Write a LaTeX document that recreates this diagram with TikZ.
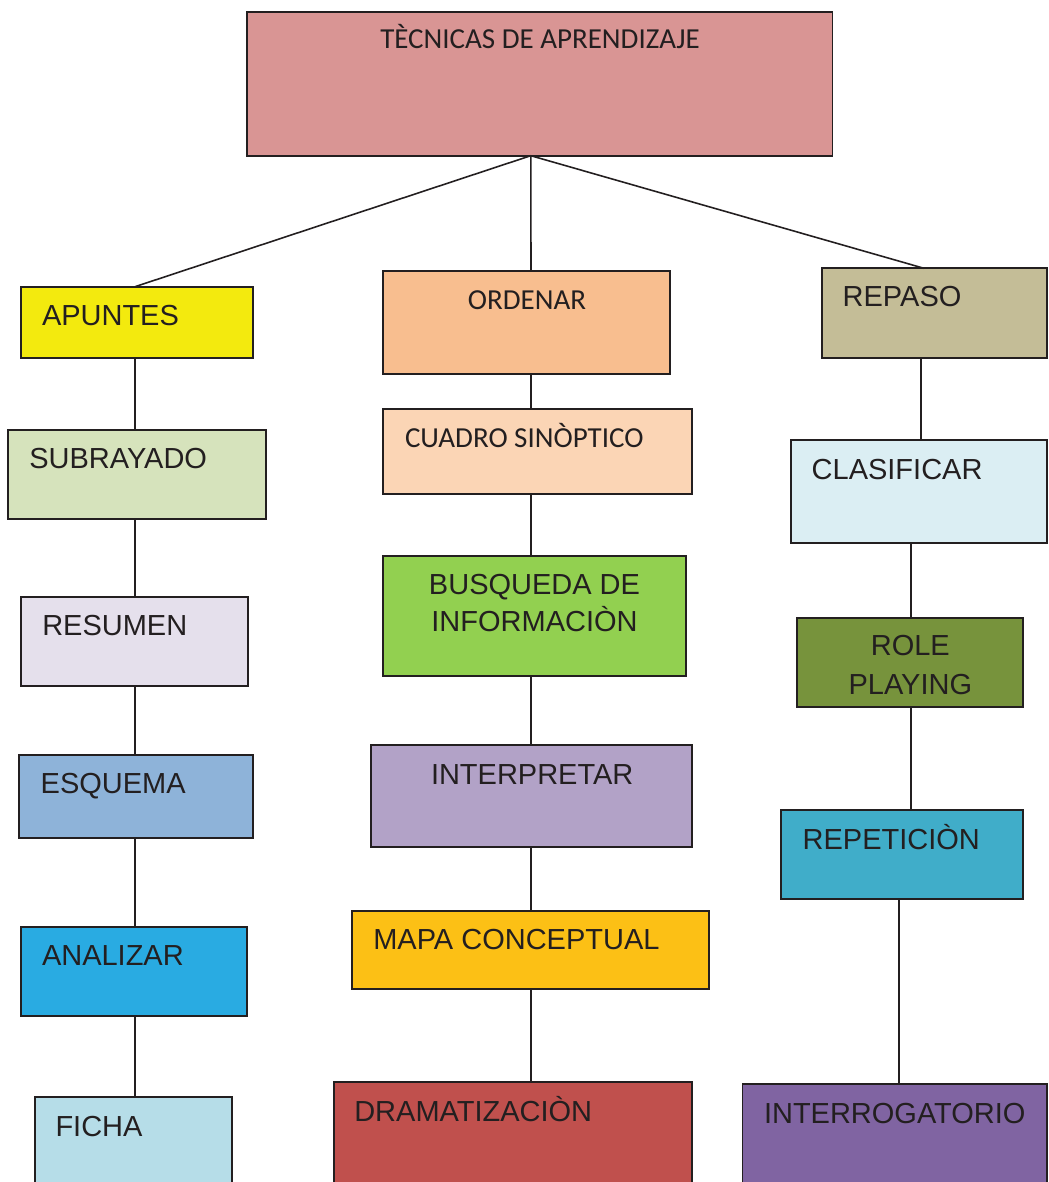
\documentclass[tikz,border=0pt]{standalone}
\usepackage{fontspec}
\setmainfont{Liberation Sans}
\newfontfamily\calib{Carlito}
\definecolor{ink}{HTML}{231F20}
\definecolor{cTop}{HTML}{D99594}
\definecolor{cApu}{HTML}{F3EA0E}
\definecolor{cOrd}{HTML}{F8BE8F}
\definecolor{cCua}{HTML}{FBD5B5}
\definecolor{cRep}{HTML}{C4BD97}
\definecolor{cSub}{HTML}{D6E3BC}
\definecolor{cCla}{HTML}{DBEEF3}
\definecolor{cRes}{HTML}{E5E0EC}
\definecolor{cBus}{HTML}{92D050}
\definecolor{cRol}{HTML}{77933C}
\definecolor{cEsq}{HTML}{8EB3D9}
\definecolor{cInt}{HTML}{B2A2C7}
\definecolor{cRpt}{HTML}{40ADC9}
\definecolor{cAna}{HTML}{29ABE2}
\definecolor{cMap}{HTML}{FCC015}
\definecolor{cFic}{HTML}{B6DDE8}
\definecolor{cDra}{HTML}{C0504D}
\definecolor{cIgt}{HTML}{8064A2}
\tikzset{
  box/.style={draw=ink, line width=0.95pt, inner sep=0pt, outer sep=0pt, rectangle},
  txt/.style={text=ink, inner sep=0pt, outer sep=0pt, font=\fontsize{16.5}{19}\selectfont},
  ctxt/.style={text=ink, inner sep=0pt, outer sep=0pt, font=\calib\fontsize{16.5}{19}\selectfont},
  link/.style={draw=ink, line width=0.9pt},
}
\newcommand\mkbox[6]{%
  \node[box, fill=#6, minimum width={((#4)-(#2))*0.02cm}, minimum height={((#5)-(#3))*0.02cm}]
    (#1) at ({((#2)+(#4))/2},{((#3)+(#5))/2}) {};}
\begin{document}
\begin{tikzpicture}[x=0.02cm, y=-0.02cm]
\useasboundingbox (0,0) rectangle (1048,1182);
\clip (0,0) rectangle (1048,1182);
% boxes
\mkbox{top}{247}{11.7}{832.4}{155.7}{cTop}
\mkbox{apuntes}{21.3}{286.7}{252.7}{358}{cApu}
\mkbox{ordenar}{383.3}{271}{670}{373.7}{cOrd}
\mkbox{repaso}{821.7}{268.3}{1047.2}{358}{cRep}
\mkbox{subrayado}{8.3}{429.7}{266}{518.7}{cSub}
\mkbox{cuadro}{383.3}{408.7}{691.7}{494.3}{cCua}
\mkbox{clasificar}{790.7}{440}{1047.2}{542.7}{cCla}
\mkbox{resumen}{21.3}{596.7}{247.7}{686}{cRes}
\mkbox{busqueda}{383.3}{555.7}{685.7}{676}{cBus}
\mkbox{role}{797}{617.7}{1023.3}{707.3}{cRol}
\mkbox{esquema}{19}{754.7}{252.7}{838.3}{cEsq}
\mkbox{interpretar}{371}{744.7}{691.7}{847}{cInt}
\mkbox{repeticion}{781.3}{810}{1023.3}{899.3}{cRpt}
\mkbox{analizar}{21.3}{927.3}{247.3}{1016.3}{cAna}
\mkbox{mapa}{352}{911}{709}{989.3}{cMap}
\mkbox{ficha}{34.8}{1097.3}{232}{1200}{cFic}
\mkbox{drama}{334.2}{1081.7}{691.8}{1200}{cDra}
\mkbox{interrog}{742.6}{1084.3}{1047.2}{1200}{cIgt}
% texts
\node[ctxt, anchor=base] (top-t) at (540,49) {TÈCNICAS DE APRENDIZAJE};
\node[txt, anchor=base west] (apuntes-t) at (42,325) {APUNTES};
\node[ctxt, anchor=base] (ordenar-t) at (527,310) {ORDENAR};
\node[txt, anchor=base west] (repaso-t) at (842.7,306) {REPASO};
\node[txt, anchor=base west] (subrayado-t) at (29.3,468) {SUBRAYADO};
\node[ctxt, anchor=base west] (cuadro-t) at (405,447) {CUADRO SINÒPTICO};
\node[txt, anchor=base west] (clasificar-t) at (811.7,479) {CLASIFICAR};
\node[txt, anchor=base west] (resumen-t) at (42.3,635) {RESUMEN};
\node[txt, anchor=base] (busqueda-t1) at (534.5,594.3) {BUSQUEDA DE};
\node[txt, anchor=base] (busqueda-t2) at (534.5,631.3) {INFORMACIÒN};
\node[txt, anchor=base] (role-t1) at (910.3,655) {ROLE};
\node[txt, anchor=base] (role-t2) at (910.3,694) {PLAYING};
\node[txt, anchor=base west] (esquema-t) at (40.7,793.3) {ESQUEMA};
\node[txt, anchor=base west] (interpretar-t) at (431,784.3) {INTERPRETAR};
\node[txt, anchor=base west] (repeticion-t) at (802.7,849) {REPETICIÒN};
\node[txt, anchor=base west] (analizar-t) at (42,965) {ANALIZAR};
\node[txt, anchor=base west] (mapa-t) at (373.3,949.3) {MAPA CONCEPTUAL};
\node[txt, anchor=base west] (ficha-t) at (55.5,1136) {FICHA};
\node[txt, anchor=base west] (drama-t) at (354.3,1121.7) {DRAMATIZACIÒN};
\node[txt, anchor=base west] (interrog-t) at (764,1123) {INTERROGATORIO};
% column coordinates
\coordinate (hub) at (530.8,155.7);
\coordinate (xl) at (135,0);
\coordinate (xm) at (531,0);
\coordinate (xr1) at (921,0);
\coordinate (xr2) at (910.7,0);
\coordinate (xr3) at (898.7,0);
\coordinate (apuntesTop) at (135,286.7);
\coordinate (repasoTop) at (924,268.3);
% connectors from top
\draw[link] (hub) -- (apuntesTop);
\draw[link] (hub) -- (ordenar.north -| xm);
\draw[link] (hub) -- (repasoTop);
% left column
\draw[link] (apuntes.south -| xl) -- (subrayado.north -| xl);
\draw[link] (subrayado.south -| xl) -- (resumen.north -| xl);
\draw[link] (resumen.south -| xl) -- (esquema.north -| xl);
\draw[link] (esquema.south -| xl) -- (analizar.north -| xl);
\draw[link] (analizar.south -| xl) -- (ficha.north -| xl);
% middle column
\draw[link] (ordenar.south -| xm) -- (cuadro.north -| xm);
\draw[link] (cuadro.south -| xm) -- (busqueda.north -| xm);
\draw[link] (busqueda.south -| xm) -- (interpretar.north -| xm);
\draw[link] (interpretar.south -| xm) -- (mapa.north -| xm);
\draw[link] (mapa.south -| xm) -- (drama.north -| xm);
% right column
\draw[link] (repaso.south -| xr1) -- (clasificar.north -| xr1);
\draw[link] (clasificar.south -| xr2) -- (role.north -| xr2);
\draw[link] (role.south -| xr2) -- (repeticion.north -| xr2);
\draw[link] (repeticion.south -| xr3) -- (interrog.north -| xr3);
\end{tikzpicture}
\end{document}
